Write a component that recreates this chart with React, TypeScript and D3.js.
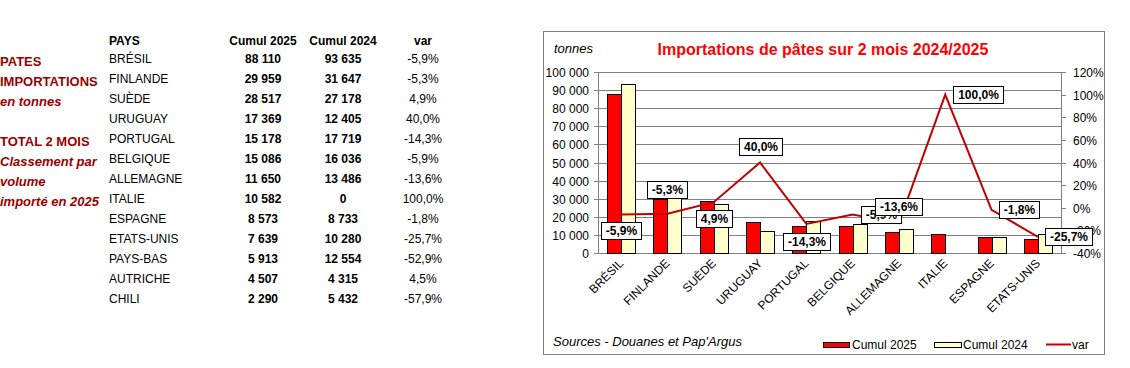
import React, { useEffect, useRef } from 'react';
import * as d3 from 'd3';

const pays = ['BRÉSIL', 'FINLANDE', 'SUÈDE', 'URUGUAY', 'PORTUGAL', 'BELGIQUE', 'ALLEMAGNE', 'ITALIE', 'ESPAGNE', 'ETATS-UNIS', 'PAYS-BAS', 'AUTRICHE', 'CHILI'];
const cumul2025 = [88110, 29959, 28517, 17369, 15178, 15086, 11650, 10582, 8573, 7639, 5913, 4507, 2290];
const cumul2024 = [93635, 31647, 27178, 12405, 17719, 16036, 13486, 0, 8733, 10280, 12554, 4315, 5432];
const variation = [-5.9, -5.3, 4.9, 40.0, -14.3, -5.9, -13.6, 100.0, -1.8, -25.7, -52.9, 4.5, -57.9];

const chartCount = 10;
const yTicks = [0, 10000, 20000, 30000, 40000, 50000, 60000, 70000, 80000, 90000, 100000];
const y2Ticks = [-40, -20, 0, 20, 40, 60, 80, 100, 120];

const sideLines = [
  { t: 'PATES', italic: false },
  { t: 'IMPORTATIONS', italic: false },
  { t: 'en tonnes', italic: true },
  { t: '', italic: false },
  { t: 'TOTAL 2 MOIS', italic: false },
  { t: 'Classement par', italic: true },
  { t: 'volume', italic: true },
  { t: 'importé en 2025', italic: true },
];

const labelPlacement = ['below', 'above', 'below', 'above', 'below', 'right', 'above', 'right', 'right', 'right'];
const labelGap = [8, 16, 8, 8, 9, 8, 8, 8, 7, 7];

const FONT = "'Liberation Sans', Arial, Helvetica, sans-serif";
const fmtNum = (v: number) => d3.format(',')(v).replace(/,/g, ' ');
const fmtPct = (v: number) => v.toFixed(1).replace('.', ',') + '%';

export default function App() {
  const ref = useRef<SVGSVGElement>(null);

  useEffect(() => {
    const svg = d3.select(ref.current);
    svg.selectAll('*').remove();
    svg.attr('font-family', FONT);

    // ---------- Left text ----------
    const side = svg.append('g');
    sideLines.forEach((l, i) => {
      if (!l.t) return;
      side.append('text')
        .attr('x', 0).attr('y', 66 + i * 20)
        .attr('font-size', 13).attr('font-weight', 'bold')
        .attr('font-style', l.italic ? 'italic' : 'normal')
        .attr('fill', '#990000')
        .text(l.t);
    });

    // ---------- Table ----------
    const tbl = svg.append('g').attr('font-size', 12).attr('fill', '#000');
    const headerY = 45;
    const rowY = (i: number) => 63 + i * 20;
    const colX = { pays: 109, c25: 263, c24: 343, v: 423 };
    tbl.append('text').attr('x', colX.pays).attr('y', headerY).attr('font-weight', 'bold').text('PAYS');
    tbl.append('text').attr('x', colX.c25).attr('y', headerY).attr('font-weight', 'bold').attr('text-anchor', 'middle').text('Cumul 2025');
    tbl.append('text').attr('x', colX.c24).attr('y', headerY).attr('font-weight', 'bold').attr('text-anchor', 'middle').text('Cumul 2024');
    tbl.append('text').attr('x', colX.v).attr('y', headerY).attr('font-weight', 'bold').attr('text-anchor', 'middle').text('var');
    pays.forEach((p, i) => {
      tbl.append('text').attr('x', colX.pays).attr('y', rowY(i)).text(p);
      tbl.append('text').attr('x', colX.c25).attr('y', rowY(i)).attr('font-weight', 'bold').attr('text-anchor', 'middle').text(fmtNum(cumul2025[i]));
      tbl.append('text').attr('x', colX.c24).attr('y', rowY(i)).attr('font-weight', 'bold').attr('text-anchor', 'middle').text(fmtNum(cumul2024[i]));
      tbl.append('text').attr('x', colX.v).attr('y', rowY(i)).attr('text-anchor', 'middle').text(fmtPct(variation[i]));
    });

    // ---------- Chart ----------
    const frame = { x: 543.5, y: 31.5, w: 561, h: 323 };
    svg.append('rect')
      .attr('x', frame.x).attr('y', frame.y).attr('width', frame.w).attr('height', frame.h)
      .attr('fill', '#fff').attr('stroke', '#808080').attr('stroke-width', 1);

    const left = 598, right = 1061, top = 72, bottom = 253;
    const cats = pays.slice(0, chartCount);
    const x = d3.scaleBand<string>().domain(cats).range([left, right]).padding(0);
    const y = d3.scaleLinear().domain([0, 100000]).range([bottom, top]);
    const y2 = d3.scaleLinear().domain([-40, 120]).range([bottom, top]);
    const cx = (c: string) => (x(c) as number) + x.bandwidth() / 2;

    // gridlines
    const g = svg.append('g');
    yTicks.forEach((t) => {
      const yy = Math.round(y(t)) + 0.5;
      g.append('line').attr('x1', left).attr('x2', right).attr('y1', yy).attr('y2', yy)
        .attr('stroke', '#808080').attr('stroke-width', 1);
      g.append('line').attr('x1', left - 4).attr('x2', left).attr('y1', yy).attr('y2', yy)
        .attr('stroke', '#808080');
      g.append('text').attr('x', 589).attr('y', yy).attr('dy', '0.35em')
        .attr('text-anchor', 'end').attr('font-size', 12).text(fmtNum(t));
    });
    y2Ticks.forEach((t) => {
      const yy = Math.round(y2(t)) + 0.5;
      g.append('line').attr('x1', right).attr('x2', right + 5).attr('y1', yy).attr('y2', yy)
        .attr('stroke', '#808080');
      g.append('text').attr('x', 1073).attr('y', yy).attr('dy', '0.35em')
        .attr('font-size', 12).text(t + '%');
    });
    g.append('line').attr('x1', left + 0.5).attr('x2', left + 0.5).attr('y1', top).attr('y2', bottom)
      .attr('stroke', '#808080');
    g.append('line').attr('x1', right + 0.5).attr('x2', right + 0.5).attr('y1', top).attr('y2', bottom + 1)
      .attr('stroke', '#808080');

    // bars
    const bw = 14;
    const bars = svg.append('g');
    cats.forEach((c, i) => {
      const c0 = cx(c);
      const v25 = cumul2025[i], v24 = cumul2024[i];
      if (v25 > 0) {
        bars.append('rect')
          .attr('x', Math.round(c0 - bw) + 0.5).attr('y', Math.round(y(v25)) + 0.5)
          .attr('width', bw).attr('height', Math.round(bottom - y(v25)))
          .attr('fill', '#ff0000').attr('stroke', '#000').attr('stroke-width', 1);
      }
      if (v24 > 0) {
        bars.append('rect')
          .attr('x', Math.round(c0) + 0.5).attr('y', Math.round(y(v24)) + 0.5)
          .attr('width', bw).attr('height', Math.round(bottom - y(v24)))
          .attr('fill', '#ffffcc').attr('stroke', '#000').attr('stroke-width', 1);
      }
    });

    // line
    const lineGen = d3.line<number>()
      .x((_, i) => cx(cats[i]))
      .y((d) => y2(d));
    svg.append('path')
      .datum(variation.slice(0, chartCount))
      .attr('d', lineGen)
      .attr('fill', 'none').attr('stroke', '#c00000').attr('stroke-width', 2)
      .attr('stroke-linejoin', 'miter');

    // data labels
    const lbl = svg.append('g');
    cats.forEach((c, i) => {
      const px = cx(c), py = y2(variation[i]);
      const t = lbl.append('text').attr('font-size', 12).attr('font-weight', 'bold')
        .attr('text-anchor', 'middle').text(fmtPct(variation[i]));
      const tw = (t.node() as SVGTextElement).getComputedTextLength();
      const bw2 = Math.round(tw + 9), bh = 17;
      let bx: number, by: number;
      const place = labelPlacement[i], gap = labelGap[i];
      if (place === 'below') { bx = px - bw2 / 2; by = py + gap; }
      else if (place === 'above') { bx = px - bw2 / 2; by = py - gap - bh; }
      else { bx = px + gap; by = py - bh / 2; }
      bx = Math.round(bx) + 0.5; by = Math.round(by) + 0.5;
      lbl.insert('rect', () => t.node() as any)
        .attr('x', bx).attr('y', by).attr('width', bw2).attr('height', bh)
        .attr('fill', '#fff').attr('stroke', '#000').attr('stroke-width', 1);
      t.attr('x', bx + bw2 / 2).attr('y', by + bh / 2).attr('dy', '0.36em');
    });

    // category labels
    cats.forEach((c) => {
      const ax = cx(c) + 3, ay = 264;
      svg.append('text').attr('font-size', 12).attr('text-anchor', 'end')
        .attr('transform', `translate(${ax},${ay}) rotate(-45)`)
        .text(c);
    });

    // title & unit
    svg.append('text').attr('x', 823).attr('y', 55).attr('text-anchor', 'middle')
      .attr('font-size', 16).attr('font-weight', 'bold').attr('fill', '#ff0000')
      .text('Importations de pâtes sur 2 mois 2024/2025');
    svg.append('text').attr('x', 554).attr('y', 53).attr('font-size', 13).attr('font-style', 'italic')
      .text('tonnes');
    svg.append('text').attr('x', 553).attr('y', 346).attr('font-size', 13).attr('font-style', 'italic')
      .text("Sources - Douanes et Pap'Argus");

    // legend
    const leg = svg.append('g').attr('font-size', 12);
    leg.append('rect').attr('x', 823.5).attr('y', 342.5).attr('width', 26).attr('height', 5)
      .attr('fill', '#ff0000').attr('stroke', '#000');
    leg.append('text').attr('x', 852).attr('y', 349).text('Cumul 2025');
    leg.append('rect').attr('x', 934.5).attr('y', 342.5).attr('width', 27).attr('height', 5)
      .attr('fill', '#ffffcc').attr('stroke', '#000');
    leg.append('text').attr('x', 963).attr('y', 349).text('Cumul 2024');
    leg.append('line').attr('x1', 1046).attr('x2', 1071).attr('y1', 344.5).attr('y2', 344.5)
      .attr('stroke', '#c00000').attr('stroke-width', 2);
    leg.append('text').attr('x', 1072).attr('y', 349).text('var');
  }, []);

  return (
    <svg
      ref={ref}
      width={1130}
      height={368}
      style={{ position: 'absolute', left: 0, top: 0, background: '#fff' }}
    />
  );
}
